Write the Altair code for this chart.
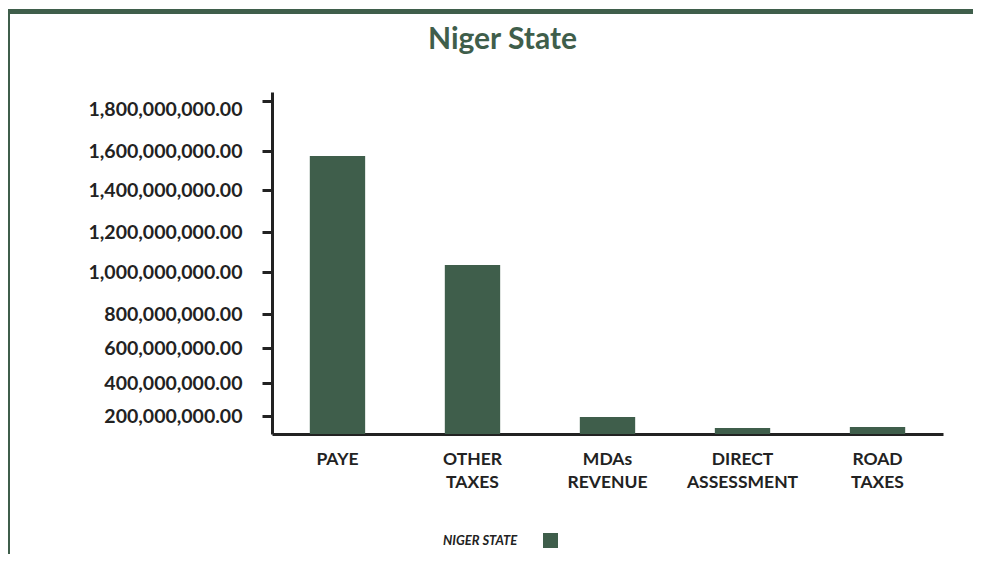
import altair as alt
import pandas as pd

# ---- data ----
categories = ["PAYE", "OTHER TAXES", "MDAs REVENUE", "DIRECT ASSESSMENT", "ROAD TAXES"]
values = [1574000000, 1035000000, 189000000, 67000000, 78000000]
series_name = "NIGER STATE"
tick_values = [200e6, 400e6, 600e6, 800e6, 1000e6, 1200e6, 1400e6, 1600e6, 1800e6]

# the reference's value axis is not evenly spaced: piecewise scale
y_domain = [0] + tick_values + [1836e6]
y_range_px = [342, 324, 291, 256, 222, 180, 140, 98, 59, 9, 0]

GREEN = "#3f5e4b"
INK = "#222222"
W, H = 671, 342

df = pd.DataFrame({"category": categories, "value": values, "series": series_name})

bars = alt.Chart(df).mark_bar().encode(
    x=alt.X(
        "category:N",
        sort=categories,
        scale=alt.Scale(paddingInner=0.59, paddingOuter=0.28),
        axis=alt.Axis(
            title=None,
            labelAngle=0,
            labelExpr="split(datum.label, ' ')",
            labelFont="Lato",
            labelFontSize=17.5,
            labelFontWeight="bold",
            labelColor=INK,
            labelPadding=16,
            labelLineHeight=23,
            labelBaseline="top",
            ticks=False,
            domainWidth=3,
            domainColor=INK,
        ),
    ),
    y=alt.Y(
        "value:Q",
        scale=alt.Scale(domain=y_domain, range=y_range_px, nice=False),
        axis=alt.Axis(
            title=None,
            values=tick_values,
            format=",.2f",
            grid=False,
            labelFont="Lato",
            labelFontSize=19.5,
            labelFontWeight="bold",
            labelColor=INK,
            labelPadding=20,
            labelOffset={"condition": {"test": "datum.value >= 1800000000", "value": 8}, "value": 0},
            tickSize=10,
            tickWidth=3,
            tickColor=INK,
            domainWidth=3,
            domainColor=INK,
        ),
    ),
    color=alt.Color(
        "series:N",
        scale=alt.Scale(domain=[series_name], range=[GREEN]),
        legend=alt.Legend(
            title=series_name,
            titleOrient="left",
            titleFont="Lato",
            titleFontSize=13,
            titleFontWeight="bold",
            titleFontStyle="italic",
            titleColor=INK,
            titlePadding=25,
            labelExpr="''",
            symbolType="square",
            symbolSize=225,
            symbolStrokeWidth=0,
            symbolOpacity=1,
            orient="none",
            legendX=171,
            legendY=441,
        ),
    ),
)

frame_top = alt.Chart(alt.Data(values=[{}])).mark_rule(color=GREEN, strokeWidth=5).encode(
    x=alt.value(-270), x2=alt.value(W + 40), y=alt.value(-80.5)
)
frame_left = alt.Chart(alt.Data(values=[{}])).mark_rule(color=GREEN, strokeWidth=5).encode(
    x=alt.value(-264.5), y=alt.value(-83), y2=alt.value(H + 130)
)

chart = (
    alt.layer(frame_top, frame_left, bars)
    .properties(
        width=W,
        height=H,
        autosize=alt.AutoSizeParams(type="none"),
        padding={"left": 264, "top": 84, "right": 30, "bottom": 120},
        title=alt.TitleParams(
            "Niger State",
            font="Lato",
            fontSize=30,
            fontWeight="bold",
            color=GREEN,
            anchor="middle",
            frame="group",
            dx=-105,
            dy=48,
            offset=0,
        ),
        background="white",
    )
    .configure_view(stroke=None)
)

chart.save("out.html", embed_options={"renderer": "svg", "actions": False})
